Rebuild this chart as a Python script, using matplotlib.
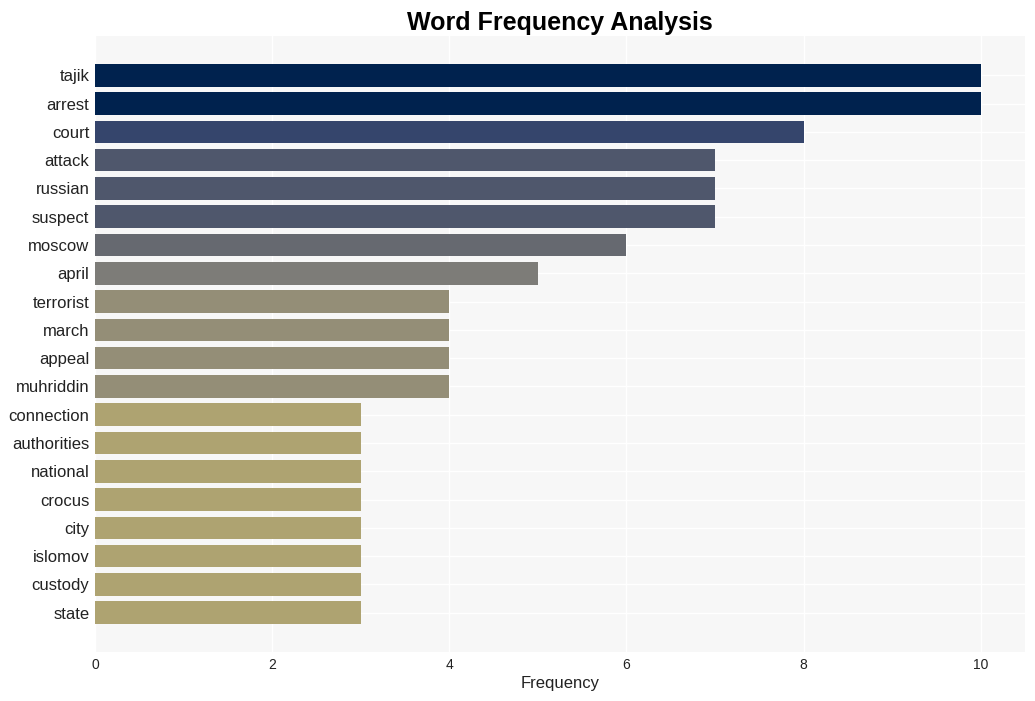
import numpy as np
import matplotlib
matplotlib.use("Agg")
from matplotlib import pyplot as plt

words = ['tajik', 'arrest', 'court', 'attack', 'russian', 'suspect', 'moscow', 'april',
         'terrorist', 'march', 'appeal', 'muhriddin', 'connection', 'authorities',
         'national', 'crocus', 'city', 'islomov', 'custody', 'state']
counts = [10, 10, 8, 7, 7, 7, 6, 5, 4, 4, 4, 4, 3, 3, 3, 3, 3, 3, 3, 3]

plt.rcParams['font.family'] = ['Liberation Sans', 'DejaVu Sans']

fig = plt.figure(figsize=(10.35, 7.01), dpi=100)
ax = fig.add_axes([0.0918, 0.0699, 0.8985, 0.8787])

# colour by frequency, darkest for the most frequent word
colors = [plt.cm.cividis(1 - c / max(counts)) for c in counts]
y = np.arange(len(words))
ax.barh(y, counts, height=0.8, color=colors, zorder=2)
ax.invert_yaxis()
ax.set_yticks(y)
ax.set_yticklabels(words, fontsize=12, color='#222222')
ax.set_xticks([0, 2, 4, 6, 8, 10])
ax.tick_params(axis='x', labelsize=10, colors='#222222', length=0, pad=4)
ax.tick_params(axis='y', length=0, pad=4)
ax.set_xlim(0, 10.5)

ax.set_facecolor('#f7f7f7')
ax.grid(True, color='white', linewidth=1, zorder=0)
ax.set_axisbelow(True)
for s in ax.spines.values():
    s.set_visible(False)

ax.set_xlabel('Frequency', fontsize=12, color='#222222', labelpad=3)
ax.set_title('Word Frequency Analysis', fontsize=18, fontweight='bold', pad=4)

plt.savefig('out.png', dpi=100)
